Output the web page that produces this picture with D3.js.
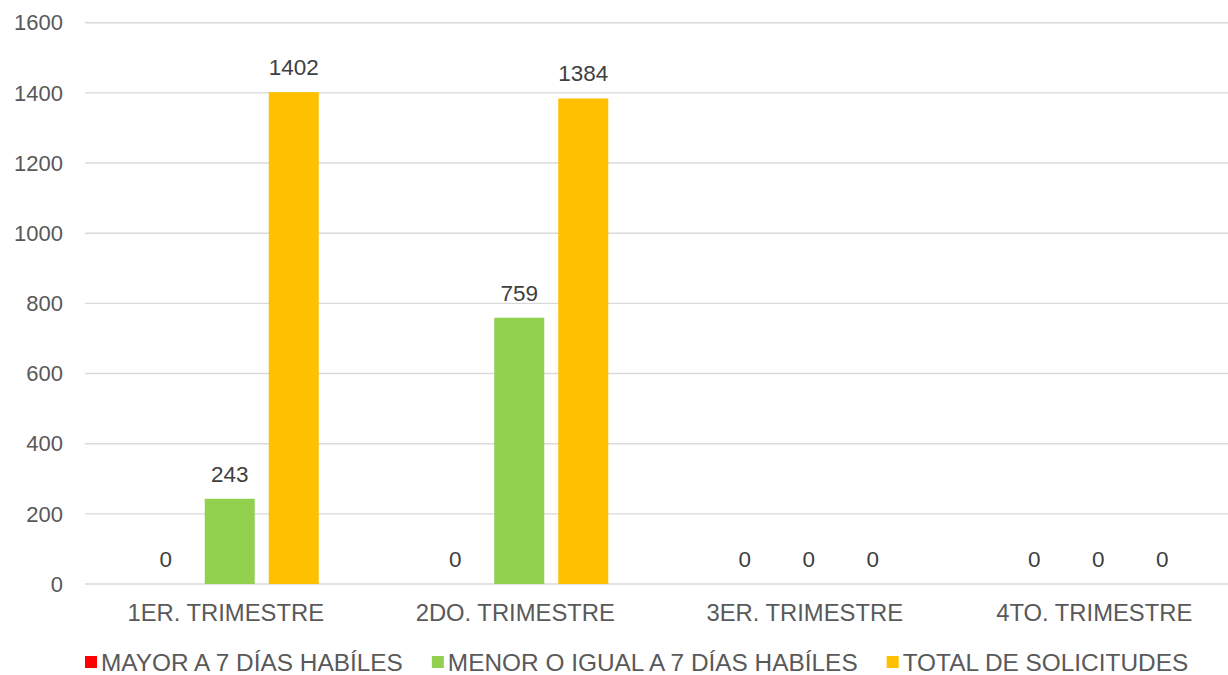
<!DOCTYPE html>
<head>
  <meta charset="utf-8">
  <script src="https://d3js.org/d3.v7.min.js"></script>
  <style>
    body { margin: 0; background: #fff; }
    text { font-family: "Liberation Sans", Arial, sans-serif; }
  </style>
</head>
<body>
<script>
var categories = ["1ER. TRIMESTRE", "2DO. TRIMESTRE", "3ER. TRIMESTRE", "4TO. TRIMESTRE"];
var seriesNames = ["MAYOR A 7 DÍAS HABÍLES", "MENOR O IGUAL A 7 DÍAS HABÍLES", "TOTAL DE SOLICITUDES"];
var seriesColors = ["#FF0000", "#92D050", "#FFC000"];
var mayor = [0, 0, 0, 0];
var menor = [243, 759, 0, 0];
var total = [1402, 1384, 0, 0];
var yTicks = [0, 200, 400, 600, 800, 1000, 1200, 1400, 1600];

var seriesValues = [mayor, menor, total];
var data = categories.map(function(c, i) {
  return { cat: c, vals: seriesNames.map(function(s, j) { return { name: s, color: seriesColors[j], value: seriesValues[j][i] }; }) };
});

var width = 1228, height = 675;
var svg = d3.select("body").append("svg")
  .attr("width", width)
  .attr("height", height);

var x0 = d3.scaleBand().domain(categories).range([85, 1243]).padding(0);
var x1 = d3.scaleBand().domain(seriesNames).range([0, x0.bandwidth()])
  .paddingInner(14 / 64).paddingOuter(0.871);
var y = d3.scaleLinear().domain([0, 1600]).range([584, 22.7]);

// gridlines
svg.append("g").selectAll("line")
  .data(yTicks)
  .enter().append("line")
    .attr("x1", 85).attr("x2", width)
    .attr("y1", function(d) { return y(d); })
    .attr("y2", function(d) { return y(d); })
    .attr("stroke", "#D9D9D9")
    .attr("stroke-width", 1.4);

// y labels
svg.append("g").selectAll("text")
  .data(yTicks)
  .enter().append("text")
    .attr("x", 63)
    .attr("y", function(d) { return y(d); })
    .attr("dy", "0.35em")
    .attr("text-anchor", "end")
    .attr("fill", "#595959")
    .style("font-size", "22px")
    .text(function(d) { return d; });

var groups = svg.append("g").selectAll("g")
  .data(data)
  .enter().append("g")
    .attr("transform", function(d) { return "translate(" + x0(d.cat) + ",0)"; });

groups.selectAll("rect")
  .data(function(d) { return d.vals; })
  .enter().append("rect")
    .attr("x", function(d) { return x1(d.name); })
    .attr("width", x1.bandwidth())
    .attr("y", function(d) { return y(d.value); })
    .attr("height", function(d) { return y(0) - y(d.value); })
    .attr("fill", function(d) { return d.color; });

groups.selectAll("text")
  .data(function(d) { return d.vals; })
  .enter().append("text")
    .attr("x", function(d) { return x1(d.name) + x1.bandwidth() / 2; })
    .attr("y", function(d) { return y(d.value) - 17; })
    .attr("text-anchor", "middle")
    .attr("fill", "#404040")
    .style("font-size", "22.5px")
    .text(function(d) { return d.value; });

// category labels
svg.append("g").selectAll("text")
  .data(categories)
  .enter().append("text")
    .attr("x", function(d) { return x0(d) + x0.bandwidth() / 2 - 4; })
    .attr("y", 621)
    .attr("text-anchor", "middle")
    .attr("fill", "#595959")
    .style("font-size", "23.8px")
    .text(function(d) { return d; });

// legend
var legend = svg.append("g");
var lx = 85;
seriesNames.forEach(function(s, i) {
  var item = legend.append("g").attr("transform", "translate(" + lx + ",0)");
  item.append("rect")
    .attr("x", 0).attr("y", 656)
    .attr("width", 12).attr("height", 12)
    .attr("fill", seriesColors[i]);
  var t = item.append("text")
    .attr("x", 16).attr("y", 671)
    .attr("fill", "#595959")
    .style("font-size", "24.4px")
    .text(s);
  lx += 16 + t.node().getComputedTextLength() + 29;
});
</script>
</body>
